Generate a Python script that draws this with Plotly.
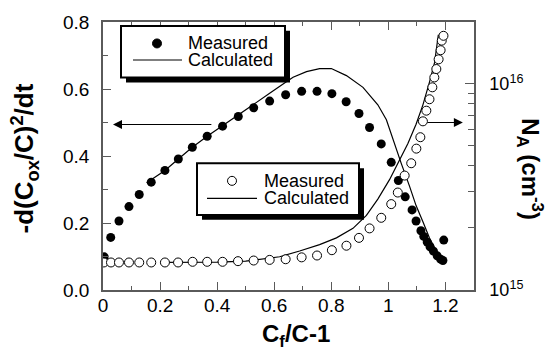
import plotly.graph_objects as go

# ---- data ----
meas_x = [0.004, 0.027, 0.056, 0.091, 0.127, 0.169, 0.217, 0.264, 0.313, 0.365,
          0.419, 0.474, 0.528, 0.584, 0.640, 0.696, 0.750, 0.802, 0.852, 0.897,
          0.934, 0.975, 1.010, 1.035, 1.059, 1.083, 1.097, 1.114, 1.124, 1.136,
          1.146, 1.158, 1.171, 1.183, 1.191, 1.194]
meas_y = [0.099, 0.157, 0.206, 0.249, 0.285, 0.322, 0.357, 0.391, 0.426, 0.459,
          0.489, 0.518, 0.544, 0.564, 0.583, 0.593, 0.593, 0.586, 0.562, 0.527,
          0.485, 0.436, 0.381, 0.327, 0.278, 0.239, 0.206, 0.177, 0.160, 0.143,
          0.129, 0.116, 0.102, 0.092, 0.088, 0.149]

calc_x = [0.153, 0.217, 0.264, 0.313, 0.365, 0.419, 0.474, 0.528, 0.584, 0.640,
          0.666, 0.713, 0.759, 0.800, 0.853, 0.911, 0.963, 0.993, 1.022, 1.045,
          1.074, 1.097, 1.121, 1.144, 1.168, 1.190]
calc_y = [0.320, 0.357, 0.391, 0.426, 0.459, 0.490, 0.522, 0.555, 0.587, 0.620,
          0.635, 0.652, 0.661, 0.661, 0.640, 0.605, 0.553, 0.508, 0.434, 0.378,
          0.310, 0.252, 0.204, 0.155, 0.116, 0.090]

na_x = [0.003, 0.028, 0.056, 0.091, 0.127, 0.169, 0.217, 0.263, 0.314, 0.365,
        0.419, 0.473, 0.528, 0.584, 0.640, 0.696, 0.750, 0.802, 0.853, 0.897,
        0.934, 0.975, 1.010, 1.033, 1.057, 1.080, 1.098, 1.112, 1.121, 1.133,
        1.144, 1.154, 1.161, 1.168, 1.176, 1.183, 1.187, 1.193]
na_y = [1.36e15, 1.36e15, 1.36e15, 1.36e15, 1.36e15, 1.36e15, 1.36e15, 1.36e15,
        1.37e15, 1.37e15, 1.37e15, 1.38e15, 1.39e15, 1.40e15, 1.41e15, 1.44e15,
        1.47e15, 1.56e15, 1.64e15, 1.79e15, 1.99e15, 2.24e15, 2.61e15, 2.97e15,
        3.59e15, 4.12e15, 4.85e15, 5.51e15, 6.58e15, 7.41e15, 8.42e15, 9.62e15,
        1.074e16, 1.18e16, 1.315e16, 1.456e16, 1.62e16, 1.71e16]

na_calc_x = [0.200, 0.300, 0.400, 0.500, 0.619, 0.689, 0.759, 0.818, 0.876, 0.923,
             0.963, 1.004, 1.039, 1.068, 1.097, 1.121, 1.144, 1.162, 1.175]
na_calc_y = [1.36e15, 1.36e15, 1.365e15, 1.38e15, 1.45e15, 1.545e15, 1.66e15,
             1.79e15, 1.99e15, 2.30e15, 2.76e15, 3.43e15, 4.27e15, 5.12e15,
             6.37e15, 7.91e15, 1.02e16, 1.27e16, 1.73e16]

x_ticks = [0, 0.2, 0.4, 0.6, 0.8, 1.0, 1.2]
x_ticklabels = ["0", "0.2", "0.4", "0.6", "0.8", "1", "1.2"]
y_ticks = [0.0, 0.2, 0.4, 0.6, 0.8]
y_ticklabels = ["0.0", "0.2", "0.4", "0.6", "0.8"]
na_ticks = [1e15, 1e16]
na_ticklabels = ["10<sup>15</sup>", "10<sup>16</sup>"]
na_minor = [2e15, 3e15, 4e15, 5e15, 6e15, 7e15, 8e15, 9e15, 2e16]
legend_labels = ["Measured", "Calculated"]

FONT = "Liberation Sans, Arial, Helvetica, sans-serif"
W, H = 549, 355
L, R, T, B = 103, 75, 15, 65
PW, PH = W - L - R, H - T - B
AX = "#5a5a5a"

def px(x):
    return (x - L) / PW

def py(y):
    return (H - B - y) / PH

fig = go.Figure()
fig.add_trace(go.Scatter(x=calc_x, y=calc_y, mode="lines",
                         line=dict(color="black", width=1.2), showlegend=False))
fig.add_trace(go.Scatter(x=meas_x, y=meas_y, mode="markers",
                         marker=dict(color="black", size=9, symbol="circle"),
                         showlegend=False))
fig.add_trace(go.Scatter(x=na_calc_x, y=na_calc_y, mode="lines", yaxis="y2",
                         line=dict(color="black", width=1.2), showlegend=False))
fig.add_trace(go.Scatter(x=na_x, y=na_y, mode="markers", yaxis="y2",
                         marker=dict(color="white", size=9, symbol="circle",
                                     line=dict(color="black", width=1)),
                         showlegend=False))

shapes = []
annotations = []

def legend_box(x0, y0, x1, y1, filled, cy1, cy2, cx, lx0, lx1, tx):
    # shadow
    shapes.append(dict(type="rect", xref="paper", yref="paper",
                       x0=px(x0 + 5), x1=px(x1 + 5), y0=py(y0 + 5), y1=py(y1 + 5),
                       fillcolor="black", line=dict(width=0), layer="above"))
    shapes.append(dict(type="rect", xref="paper", yref="paper",
                       x0=px(x0), x1=px(x1), y0=py(y0), y1=py(y1),
                       fillcolor="white", line=dict(color="black", width=2), layer="above"))
    shapes.append(dict(type="circle", xref="paper", yref="paper",
                       xsizemode="pixel", ysizemode="pixel",
                       xanchor=px(cx), yanchor=py(cy1), x0=-4.5, x1=4.5, y0=-4.5, y1=4.5,
                       fillcolor="black" if filled else "white",
                       line=dict(color="black", width=1), layer="above"))
    shapes.append(dict(type="line", xref="paper", yref="paper",
                       x0=px(lx0), x1=px(lx1), y0=py(cy2), y1=py(cy2),
                       line=dict(color="black", width=1.2), layer="above"))
    for lab, cy in zip(legend_labels, [cy1, cy2]):
        annotations.append(dict(xref="paper", yref="paper", x=px(tx), y=py(cy),
                                text=lab, showarrow=False, xanchor="left",
                                yanchor="middle",
                                font=dict(family=FONT, size=18, color="black")))

legend_box(121, 19, 285, 72, True, 37, 54, 157, 133, 182, 186)
legend_box(197, 160, 359, 213, False, 178, 196, 232, 207, 257, 262)

# arrows
annotations.append(dict(x=0.035, y=0.494, ax=0.385, ay=0.494, xref="x", yref="y",
                        axref="x", ayref="y", text="", showarrow=True,
                        arrowhead=2, arrowsize=1.8, arrowwidth=1, arrowcolor="black"))
annotations.append(dict(x=1.261, y=0.500, ax=1.132, ay=0.500, xref="x", yref="y",
                        axref="x", ayref="y", text="", showarrow=True,
                        arrowhead=2, arrowsize=1.8, arrowwidth=1, arrowcolor="black"))

# axis titles
annotations.append(dict(xref="paper", yref="paper", x=px(25), y=py(155),
                        xanchor="center", yanchor="middle",
                        text="<b>-d(C<sub>ox</sub>/C)<sup>2</sup>/dt</b>",
                        textangle=-90, showarrow=False,
                        font=dict(family=FONT, size=26, color="black")))
annotations.append(dict(xref="paper", yref="paper", x=px(530), y=py(166),
                        xanchor="center", yanchor="middle",
                        text="<b>N<sub>A</sub> (cm<sup>-3</sup>)</b>",
                        textangle=90, showarrow=False,
                        font=dict(family=FONT, size=24, color="black")))
annotations.append(dict(xref="paper", yref="paper", x=px(296), y=py(337),
                        xanchor="center", yanchor="middle",
                        text="<b>C<sub>f</sub>/C-1</b>", showarrow=False,
                        font=dict(family=FONT, size=24, color="black")))

fig.update_layout(
    width=W, height=H,
    margin=dict(l=L, r=R, t=T, b=B, pad=0),
    paper_bgcolor="white", plot_bgcolor="white",
    showlegend=False,
    font=dict(family=FONT, size=18, color="black"),
    xaxis=dict(range=[0, 1.3], tickvals=x_ticks, ticktext=x_ticklabels,
               ticks="inside", ticklen=8, tickwidth=1, tickcolor=AX,
               minor=dict(dtick=0.1, tick0=0, ticks="inside", ticklen=4,
                          tickcolor=AX, tickwidth=1),
               showline=True, linecolor=AX, linewidth=1.5, mirror="ticks",
               showgrid=False, zeroline=False, ticklabelstandoff=-3,
               tickfont=dict(family=FONT, size=19, color="black")),
    yaxis=dict(range=[0, 0.8], tickvals=y_ticks, ticktext=y_ticklabels,
               ticks="inside", ticklen=8, tickwidth=1, tickcolor=AX,
               minor=dict(dtick=0.1, tick0=0, ticks="inside", ticklen=5,
                          tickcolor=AX, tickwidth=1),
               showline=True, linecolor=AX, linewidth=1.5,
               showgrid=False, zeroline=False, ticklabelstandoff=8,
               tickfont=dict(family=FONT, size=19, color="black")),
    yaxis2=dict(type="log", range=[15, 16.3], overlaying="y", side="right",
                tickvals=na_ticks, ticktext=na_ticklabels,
                ticks="inside", ticklen=9, tickwidth=1, tickcolor=AX,
                minor=dict(tickvals=na_minor, ticks="inside", ticklen=6,
                           tickcolor=AX, tickwidth=1),
                showline=True, linecolor=AX, linewidth=1.5,
                showgrid=False, zeroline=False, ticklabelstandoff=10,
                tickfont=dict(family=FONT, size=18, color="black")),
    shapes=shapes,
    annotations=annotations,
)

fig.write_html("out.html")
